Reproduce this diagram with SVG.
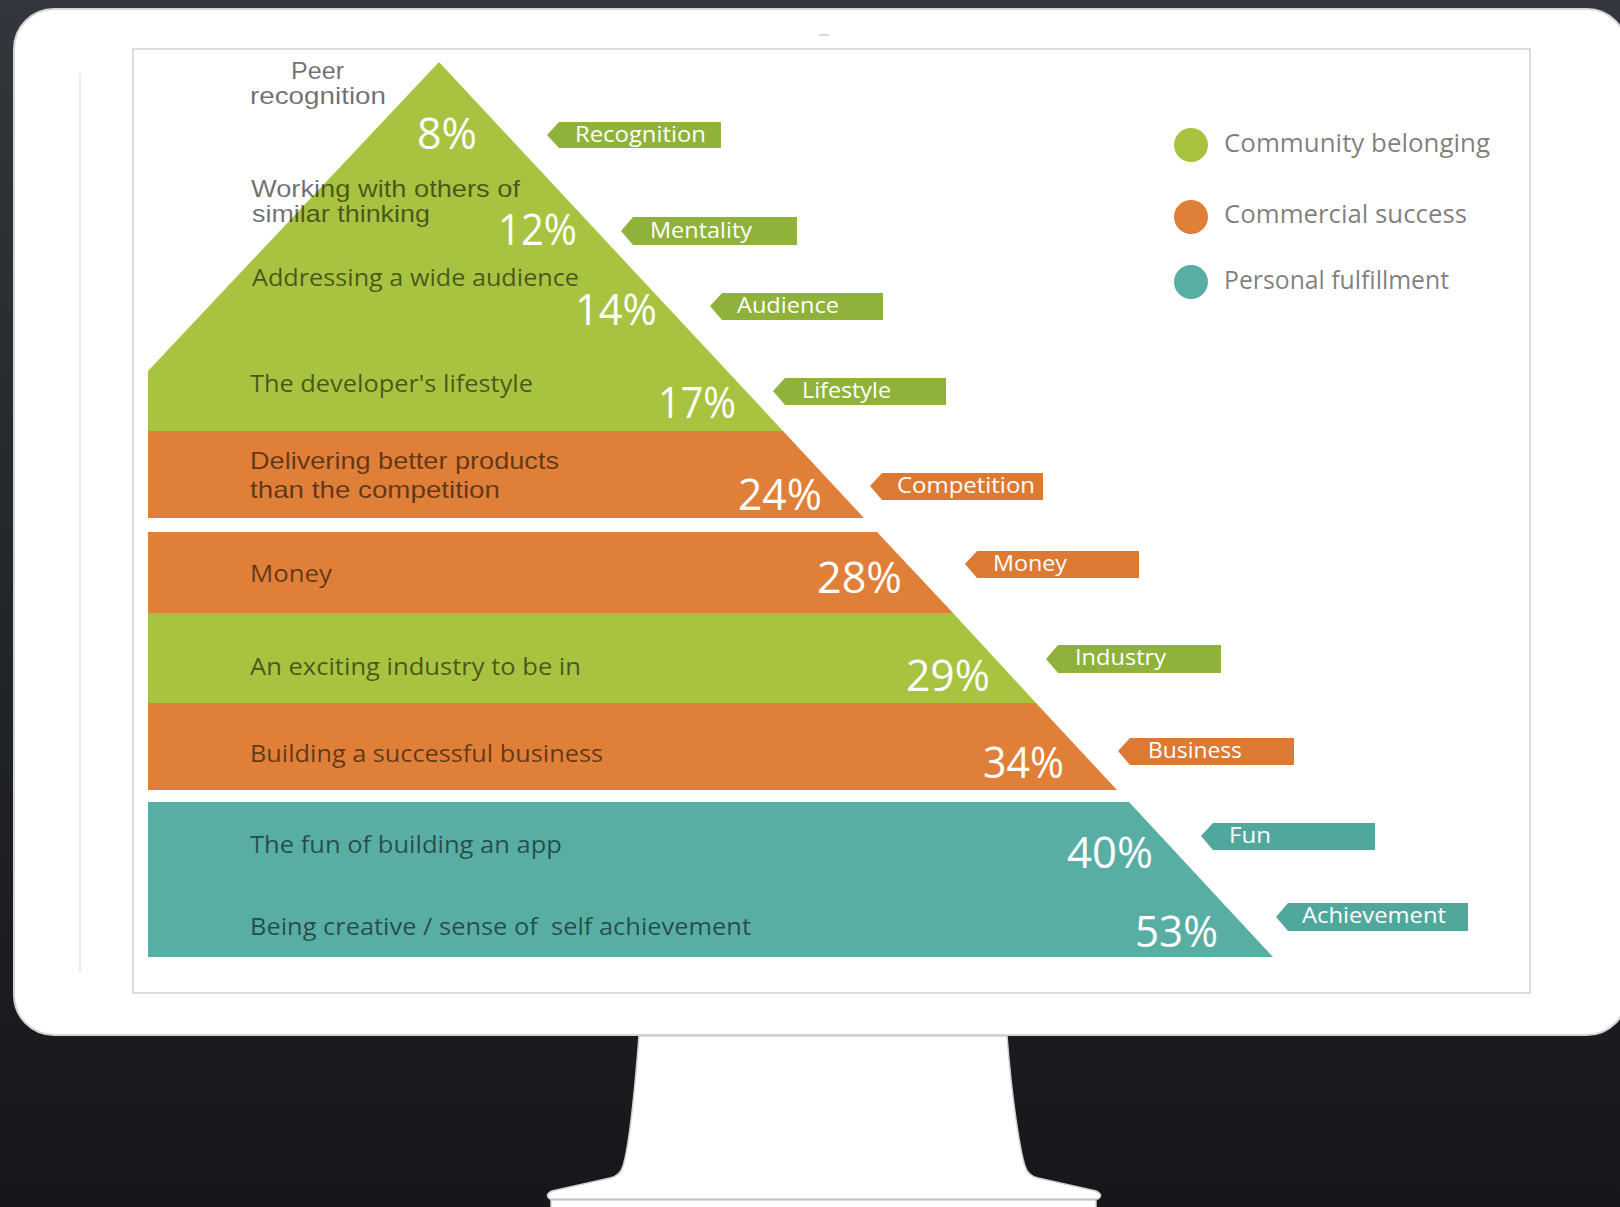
<svg xmlns="http://www.w3.org/2000/svg" width="1620" height="1207" viewBox="0 0 1620 1207">
<defs>
<linearGradient id="bg" x1="0" y1="0" x2="0" y2="1">
<stop offset="0" stop-color="#33373d"/>
<stop offset="0.45" stop-color="#24272c"/>
<stop offset="1" stop-color="#16171b"/>
</linearGradient>
</defs>
<style>
.lbl{font-family:"Open Sans","Liberation Sans",sans-serif;font-size:24px;fill:#000;fill-opacity:0.56}
.tight{font-family:"Liberation Sans",sans-serif}
.pct{font-family:"Open Sans","Liberation Sans",sans-serif;font-size:43px;fill:#fff}
.tagt{font-family:"Open Sans","Liberation Sans",sans-serif;font-size:21px;fill:#fff}
.leg{font-family:"Open Sans","Liberation Sans",sans-serif;font-size:25px;fill:#000;fill-opacity:0.52}
.g{fill:#a7c33f}.o{fill:#df7f38}.t{fill:#58aea3}
.tg{fill:#8fb23a}.to{fill:#dc7a34}.tt{fill:#50a89d}
</style>
<rect x="0" y="0" width="1620" height="1207" fill="url(#bg)"/>
<g id="monitor">
<rect x="14" y="9" width="1613" height="1026" rx="40" ry="40" fill="#fff" stroke="#d4d4d4" stroke-width="2"/>
<path d="M639,1036 L1007,1036 C1012,1100 1020,1150 1025,1166 Q1028,1176 1038,1178 L1096,1191 Q1104,1195 1098,1199 L550,1199 Q544,1195 552,1191 L610,1178 Q620,1176 623,1166 C628,1150 634,1100 639,1036 Z" fill="#fff" stroke="#cfcfcf" stroke-width="1.5"/>
<rect x="551" y="1200" width="545" height="8" fill="#fff" stroke="#d0d0d0" stroke-width="1.5"/>
<rect x="133" y="49" width="1397" height="944" fill="#fff" stroke="#dcdcdc" stroke-width="2"/>
<line x1="80" y1="73" x2="80" y2="972" stroke="#e4e4e4" stroke-width="1.5"/>
<line x1="819" y1="35" x2="829" y2="35" stroke="#c8c8c8" stroke-width="1.5"/>
</g>
<g id="pyramid">
<g id="band-community-top">
<polygon class="g" points="439,62 783,431 148,431 148,371"/>
<text class="lbl tight" x="291" y="79" font-size="16" textLength="53" lengthAdjust="spacingAndGlyphs">Peer</text>
<text class="lbl tight" x="250" y="104" font-size="16" textLength="136" lengthAdjust="spacingAndGlyphs">recognition</text>
<text class="pct" x="417" y="149" textLength="60" lengthAdjust="spacingAndGlyphs">8%</text>
<text class="lbl tight" x="251" y="197" font-size="18" textLength="269" lengthAdjust="spacingAndGlyphs">Working with others of</text>
<text class="lbl tight" x="252" y="222" font-size="18" textLength="178" lengthAdjust="spacingAndGlyphs">similar thinking</text>
<text class="pct" x="498" y="245" textLength="79" lengthAdjust="spacingAndGlyphs">12%</text>
<text class="lbl" x="252" y="286" textLength="327" lengthAdjust="spacingAndGlyphs">Addressing a wide audience</text>
<text class="pct" x="575" y="325" textLength="82" lengthAdjust="spacingAndGlyphs">14%</text>
<text class="lbl" x="250" y="392" textLength="283" lengthAdjust="spacingAndGlyphs">The developer's lifestyle</text>
<text class="pct" x="658" y="418" textLength="78" lengthAdjust="spacingAndGlyphs">17%</text>
</g>
<g id="band-competition">
<polygon class="o" points="148,431 783,431 864,518 148,518"/>
<text class="lbl tight" x="250" y="469" font-size="23" textLength="309" lengthAdjust="spacingAndGlyphs">Delivering better products</text>
<text class="lbl tight" x="250" y="498" font-size="23" textLength="250" lengthAdjust="spacingAndGlyphs">than the competition</text>
<text class="pct" x="738" y="510" textLength="84" lengthAdjust="spacingAndGlyphs">24%</text>
</g>
<g id="band-money">
<polygon class="o" points="148,532 877,532 953,613 148,613"/>
<text class="lbl" x="250" y="582" textLength="82" lengthAdjust="spacingAndGlyphs">Money</text>
<text class="pct" x="817" y="593" textLength="85" lengthAdjust="spacingAndGlyphs">28%</text>
</g>
<g id="band-industry">
<polygon class="g" points="148,613 953,613 1036,703 148,703"/>
<text class="lbl" x="250" y="675" textLength="331" lengthAdjust="spacingAndGlyphs">An exciting industry to be in</text>
<text class="pct" x="906" y="691" textLength="84" lengthAdjust="spacingAndGlyphs">29%</text>
</g>
<g id="band-business">
<polygon class="o" points="148,703 1036,703 1117,790 148,790"/>
<text class="lbl" x="250" y="762" textLength="353" lengthAdjust="spacingAndGlyphs">Building a successful business</text>
<text class="pct" x="983" y="778" textLength="81" lengthAdjust="spacingAndGlyphs">34%</text>
</g>
<g id="band-personal">
<polygon class="t" points="148,802 1129,802 1273,957 148,957"/>
<text class="lbl" x="250" y="853" textLength="312" lengthAdjust="spacingAndGlyphs">The fun of building an app</text>
<text class="pct" x="1067" y="868" textLength="86" lengthAdjust="spacingAndGlyphs">40%</text>
<text class="lbl" x="250" y="935" textLength="501" lengthAdjust="spacingAndGlyphs" xml:space="preserve">Being creative / sense of  self achievement</text>
<text class="pct" x="1135" y="947" textLength="83" lengthAdjust="spacingAndGlyphs">53%</text>
</g>
</g>
<g id="tags">
<g id="tag-recognition"><polygon class="tg" points="547,135 559,122 721,122 721,148 559,148"/><text class="tagt" x="575" y="142" textLength="131" lengthAdjust="spacingAndGlyphs">Recognition</text></g>
<g id="tag-mentality"><polygon class="tg" points="621,231 633,217 797,217 797,245 633,245"/><text class="tagt" x="650" y="238" textLength="102" lengthAdjust="spacingAndGlyphs">Mentality</text></g>
<g id="tag-audience"><polygon class="tg" points="710,306 722,293 883,293 883,320 722,320"/><text class="tagt" x="737" y="313" textLength="102" lengthAdjust="spacingAndGlyphs">Audience</text></g>
<g id="tag-lifestyle"><polygon class="tg" points="773,391 785,378 946,378 946,405 785,405"/><text class="tagt" x="802" y="398" textLength="89" lengthAdjust="spacingAndGlyphs">Lifestyle</text></g>
<g id="tag-competition"><polygon class="to" points="870,486 882,473 1043,473 1043,500 882,500"/><text class="tagt" x="897" y="493" textLength="138" lengthAdjust="spacingAndGlyphs">Competition</text></g>
<g id="tag-money"><polygon class="to" points="965,564 977,551 1139,551 1139,578 977,578"/><text class="tagt" x="993" y="571" textLength="74" lengthAdjust="spacingAndGlyphs">Money</text></g>
<g id="tag-industry"><polygon class="tg" points="1046,659 1058,645 1221,645 1221,673 1058,673"/><text class="tagt" x="1075" y="665" textLength="91" lengthAdjust="spacingAndGlyphs">Industry</text></g>
<g id="tag-business"><polygon class="to" points="1118,751 1130,738 1294,738 1294,765 1130,765"/><text class="tagt" x="1148" y="758" textLength="94" lengthAdjust="spacingAndGlyphs">Business</text></g>
<g id="tag-fun"><polygon class="tt" points="1201,836 1213,823 1375,823 1375,850 1213,850"/><text class="tagt" x="1229" y="843" textLength="42" lengthAdjust="spacingAndGlyphs">Fun</text></g>
<g id="tag-achievement"><polygon class="tt" points="1276,917 1288,903 1468,903 1468,931 1288,931"/><text class="tagt" x="1302" y="923" textLength="144" lengthAdjust="spacingAndGlyphs">Achievement</text></g>
</g>
<g id="legend">
<g id="legend-community"><circle class="g" cx="1191" cy="145" r="17"/><text class="leg" x="1224" y="152" textLength="266" lengthAdjust="spacingAndGlyphs">Community belonging</text></g>
<g id="legend-commercial"><circle class="o" cx="1191" cy="217" r="17"/><text class="leg" x="1224" y="223" textLength="243" lengthAdjust="spacingAndGlyphs">Commercial success</text></g>
<g id="legend-personal"><circle class="t" cx="1191" cy="282" r="17"/><text class="leg" x="1224" y="289" textLength="225" lengthAdjust="spacingAndGlyphs">Personal fulfillment</text></g>
</g>
<g id="connectors"/>
</svg>
